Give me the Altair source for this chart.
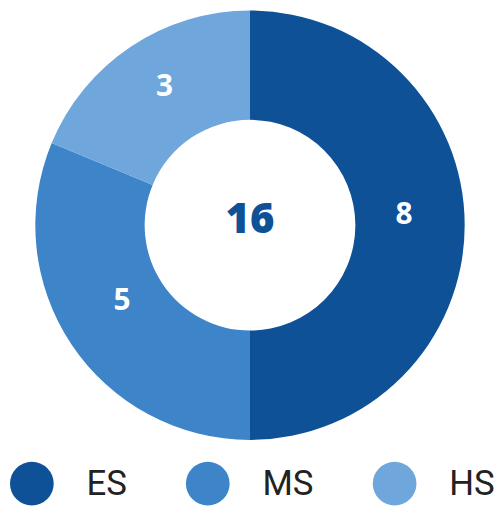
import altair as alt
import pandas as pd

categories = ["ES", "MS", "HS"]
counts = [8, 5, 3]
colors = ["#0e5196", "#3d84c8", "#6fa6dc"]

df = pd.DataFrame({"level": categories, "count": counts, "idx": list(range(len(categories)))})

color_scale = alt.Scale(domain=categories, range=colors)

base = alt.Chart(df).encode(
    theta=alt.Theta("count:Q", stack=True),
    order=alt.Order("idx:Q"),
)

arcs = base.mark_arc(outerRadius=216, innerRadius=106, stroke=None).encode(
    color=alt.Color(
        "level:N",
        scale=color_scale,
        sort=categories,
        legend=alt.Legend(
            title=None,
            orient="none",
            direction="horizontal",
            legendX=2,
            legendY=455,
            symbolType="circle",
            symbolSize=1936,
            symbolStrokeWidth=0,
            symbolOpacity=1,
            labelFont="Roboto",
            labelFontSize=35,
            labelColor="#222222",
            labelOffset=33,
            columnPadding=59,
            padding=0,
        ),
    )
)

labels = base.mark_text(
    radius=155, font="Open Sans", fontWeight="bold", fontSize=30, color="white",
    baseline="middle", align="center", dy=-10,
).encode(text=alt.Text("count:Q"))

center = alt.Chart(df).transform_aggregate(total="sum(count)").mark_text(
    font="Open Sans", fontWeight=800, fontSize=42, color="#0e5196",
    baseline="middle", align="center", dy=-5,
).encode(text=alt.Text("total:Q"))

chart = alt.layer(arcs, labels, center).properties(
    width=487, height=434, padding=0
).configure_view(stroke=None)

chart.save("out.html", embed_options={"renderer": "svg", "actions": False})
